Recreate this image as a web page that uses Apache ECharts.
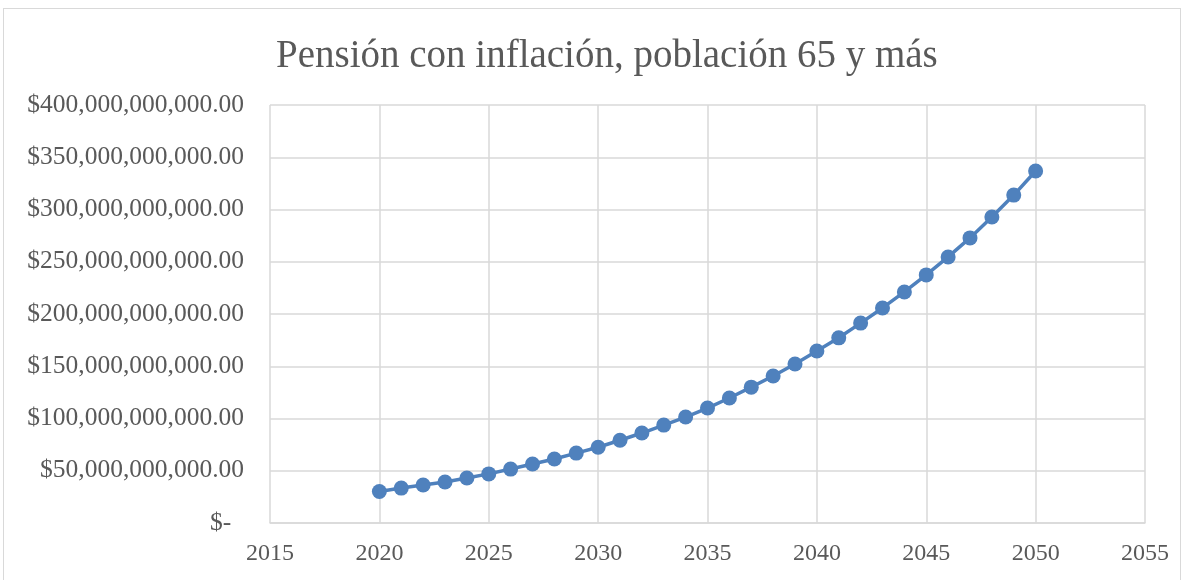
<!DOCTYPE html>
<html>
<head>
<meta charset="utf-8">
<script src="https://cdn.jsdelivr.net/npm/echarts@6/dist/echarts.min.js"></script>
<style>
  html, body { margin: 0; padding: 0; background: #fff; }
  #frame { position: absolute; left: 3px; top: 8px; width: 1178px; height: 580px; border: 1px solid #d9d9d9; box-sizing: border-box; }
  #chart { position: absolute; left: 0; top: 0; width: 1188px; height: 580px; }
</style>
</head>
<body>
<div id="frame"></div>
<div id="chart"></div>
<script>
// años y pensión (pesos)
var years = [2020, 2021, 2022, 2023, 2024, 2025, 2026, 2027, 2028, 2029,
             2030, 2031, 2032, 2033, 2034, 2035, 2036, 2037, 2038, 2039,
             2040, 2041, 2042, 2043, 2044, 2045, 2046, 2047, 2048, 2049, 2050];
// miles de millones
var pension = [30.1, 33.4, 36.4, 39.3, 43.0, 47.0, 51.6, 56.4, 61.3, 66.9,
               72.5, 79.2, 86.1, 93.7, 101.4, 110.0, 119.6, 130.0, 140.7, 152.1,
               164.6, 177.2, 191.3, 205.8, 221.1, 237.4, 254.6, 272.8, 292.8, 313.8, 336.8];
var xTicks = { min: 2015, max: 2055, step: 5 };
var yTicks = { min: 0, max: 400e9, step: 50e9 };

var serie = [];
for (var i = 0; i < years.length; i++) {
    serie.push([years[i], pension[i] * 1e9]);
}

function fmtMoney(v) {
    if (v == 0) {
        return "$-  ";
    }
    var s = Math.round(v).toString().replace(/\B(?=(\d{3})+(?!\d))/g, ",");
    return "$" + s + ".00";
}

var chart = echarts.init(document.getElementById("chart"));
var font = "'Liberation Serif', 'DejaVu Serif', serif";
chart.setOption({
    animation: false,
    title: {
        text: "Pensión con inflación, población 65 y más",
        left: 271,
        top: 32,
        textStyle: { fontFamily: font, fontSize: 39, fontWeight: "normal", color: "#595959" }
    },
    grid: { left: 270, right: 43, top: 105, bottom: 57 },
    xAxis: {
        type: "value",
        min: xTicks.min,
        max: xTicks.max,
        interval: xTicks.step,
        axisLine: { show: true, lineStyle: { color: "#d9d9d9", width: 1.5 } },
        axisTick: { show: false },
        splitLine: { show: true, lineStyle: { color: "#d9d9d9", width: 1.5 } },
        axisLabel: {
            color: "#595959", fontFamily: font, fontSize: 24, margin: 19,
            formatter: function (v) { return String(v); }
        }
    },
    yAxis: {
        type: "value",
        min: yTicks.min,
        max: yTicks.max,
        interval: yTicks.step,
        axisLine: { show: false },
        axisTick: { show: false },
        splitLine: { lineStyle: { color: "#d9d9d9", width: 1.5 } },
        axisLabel: { color: "#595959", fontFamily: font, fontSize: 25.5, margin: 26, formatter: fmtMoney }
    },
    series: [{
        type: "line",
        data: serie,
        symbol: "circle",
        symbolSize: 15,
        lineStyle: { color: "#4f81bd", width: 3.5 },
        itemStyle: { color: "#4f81bd" }
    }]
});
</script>
</body>
</html>
